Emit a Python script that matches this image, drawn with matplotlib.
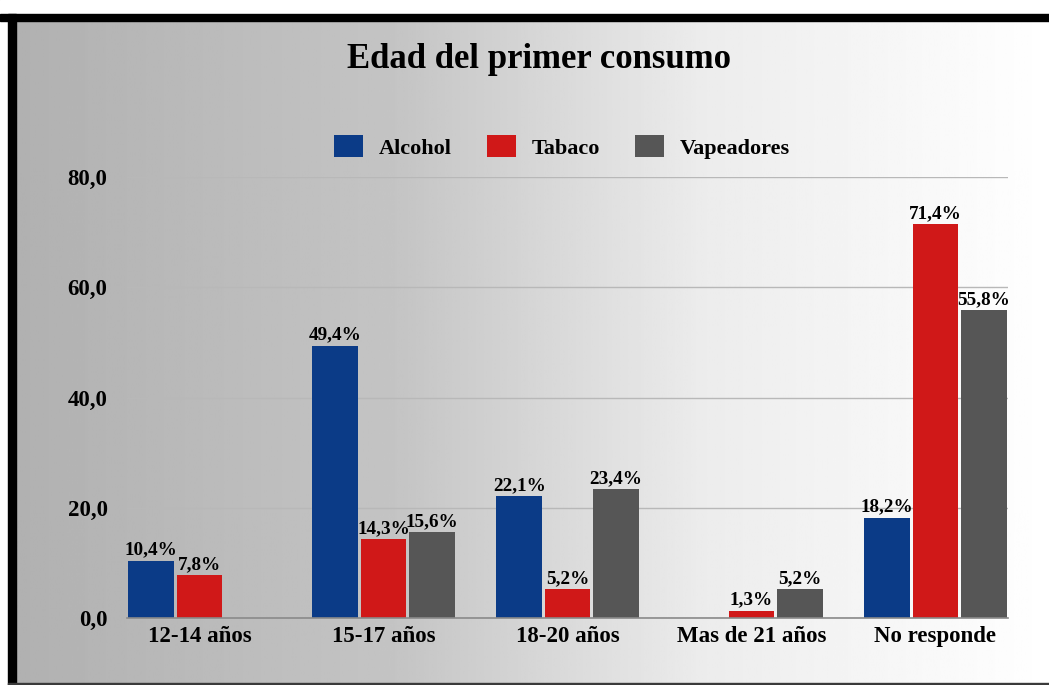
import numpy as np
import matplotlib.pyplot as plt
from matplotlib.patches import Rectangle

categories = ["12-14 años", "15-17 años", "18-20 años", "Mas de 21 años", "No responde"]
alcohol = [10.4, 49.4, 22.1, 0.0, 18.2]
tabaco = [7.8, 14.3, 5.2, 1.3, 71.4]
vapeadores = [0.0, 15.6, 23.4, 5.2, 55.8]
series_names = ["Alcohol", "Tabaco", "Vapeadores"]
colors = ["#0b3b87", "#d01818", "#565656"]
yticks = [0, 20, 40, 60, 80]

plt.rcParams['font.family'] = ['Liberation Serif', 'DejaVu Serif']
plt.rcParams['font.weight'] = 'bold'

fig = plt.figure(figsize=(10.49, 6.85), dpi=100)

# Background gradient (dark grey on the left to white on the right)
bg = fig.add_axes([0, 0, 1, 1], zorder=-10)
xs = np.linspace(0, 1, 400)
shade = np.interp(xs, [0, 0.38, 0.67, 1.0], [0.69, 0.77, 0.925, 1.0])
bg.imshow(np.tile(shade, (2, 1)), cmap="gray", vmin=0, vmax=1, aspect="auto",
          extent=[0, 1, 0, 1])
bg.set_xlim(0, 1)
bg.set_ylim(0, 1)
bg.axis("off")

# Frame: white strip at top, black bands top and left, thin dark line at bottom
W, H = 1049, 685
bg.add_patch(Rectangle((0, 1 - 14 / H), 1, 14 / H, color="white", zorder=5))
bg.add_patch(Rectangle((0, 1 - 21 / H), 1, 7 / H, color="black", zorder=6))
bg.add_patch(Rectangle((0, 0), 8 / W, 1 - 14 / H, color="white", zorder=5))
bg.add_patch(Rectangle((8 / W, 0), 8 / W, 1 - 14 / H, color="black", zorder=6))
bg.add_patch(Rectangle((8 / W, 0), 1, 2 / H, color="#3a3a3a", zorder=6))

ax = fig.add_axes([127 / W, 1 - 618 / H, 881 / W, 441 / H])
ax.patch.set_alpha(0)

x = np.arange(len(categories))
w = 0.2627
data = [alcohol, tabaco, vapeadores]
for i, (vals, name, c) in enumerate(zip(data, series_names, colors)):
    pos = x + (i - 1) * w
    bars = ax.bar(pos, vals, width=w * 0.94, color=c, label=name, zorder=3)
    for b, v in zip(bars, vals):
        if v > 0:
            ax.text(b.get_x() + b.get_width() / 2, v + 0.4,
                    f"{v:.1f}%".replace(".", ","), ha="center", va="bottom",
                    fontsize=13.8, fontweight="bold", zorder=4)

ax.set_xlim(-1.5 * w, len(categories) - 1 + 1.5 * w)
ax.set_ylim(0, 80)
ax.set_yticks(yticks)
ax.set_yticklabels([f"{t:.1f}".replace(".", ",") for t in yticks],
                   fontsize=16.5, fontweight="bold")
ax.set_xticks(x)
ax.set_xticklabels(categories, fontsize=16.5, fontweight="bold")
ax.tick_params(axis="y", length=0, pad=14)
ax.tick_params(axis="x", length=0, pad=6)
ax.grid(axis="y", color="#b8b8b8", linewidth=1, zorder=0)
for s in ["top", "right", "left"]:
    ax.spines[s].set_visible(False)
ax.spines["bottom"].set_color("#8a8a8a")
ax.spines["bottom"].set_linewidth(1.2)
ax.spines["bottom"].set_zorder(5)

fig.text(539 / W, 1 - 60 / H, "Edad del primer consumo", ha="center", va="center",
         fontsize=25, fontweight="bold")

leg = fig.legend(loc="center", bbox_to_anchor=(562 / W, 1 - 147 / H), ncol=3,
                 frameon=False, prop={"size": 16, "weight": "bold"},
                 handlelength=1.3, handleheight=1.1, columnspacing=1.6,
                 handletextpad=0.7)

fig.savefig("out.png", dpi=100)
